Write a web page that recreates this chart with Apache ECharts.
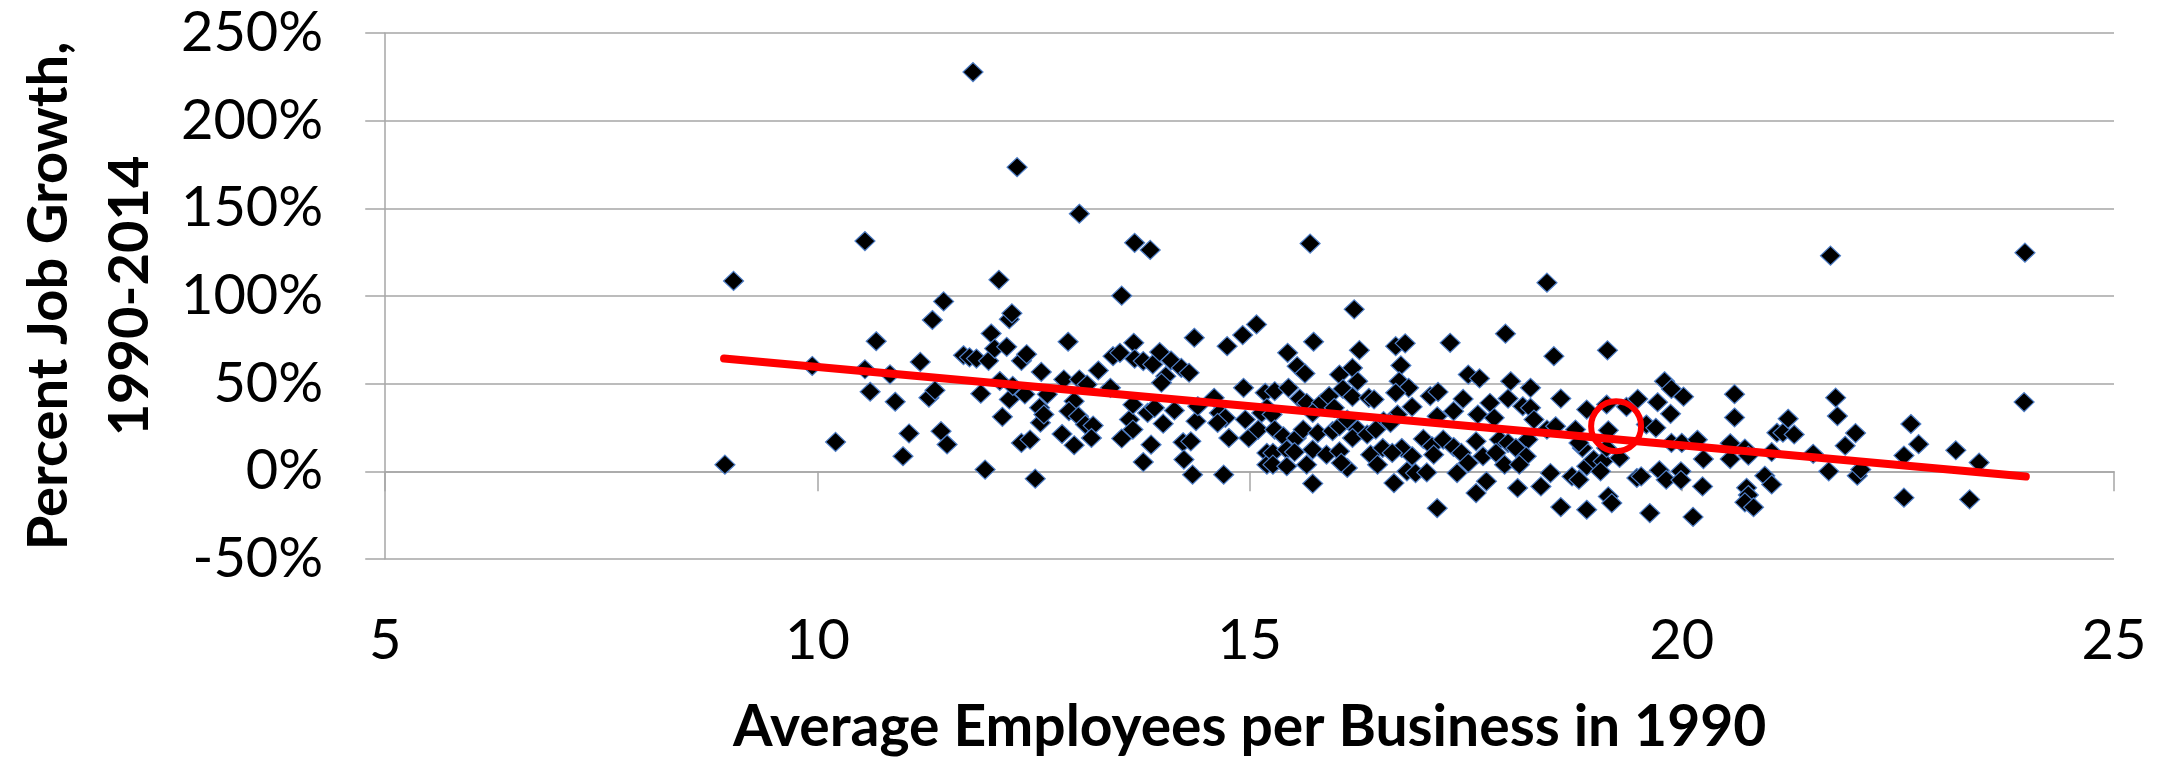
<!DOCTYPE html>
<html>
<head>
<meta charset="utf-8">
<script src="https://cdn.jsdelivr.net/npm/echarts@6/dist/echarts.min.js"></script>
<style>
html,body{margin:0;padding:0;background:#fff;}
#chart{width:2173px;height:761px;}
</style>
</head>
<body>
<div id="chart"></div>
<script>
// [average employees per business 1990, percent job growth 1990-2014]
const scatterPoints = [
[8.93,3.8],[9.03,108.6],[9.94,60.1],[10.21,16.8],[10.55,131.3],[10.55,58.2],[10.61,45.4],[10.68,74.2],[10.84,55.3],[10.9,39.7],[10.99,8.6],[11.06,21.6],[11.19,62.4],[11.29,42],[11.33,86.3],[11.36,46.2],[11.43,22.9],[11.46,96.9],[11.5,15.3],[11.69,66.2],[11.76,65],[11.8,227.7],[11.84,64.3],[11.89,44.3],[11.94,1],[11.98,63],[12.01,78.6],[12.05,70],[12.1,109.2],[12.11,51.5],[12.14,31.1],[12.19,71],[12.22,86.8],[12.22,41],[12.25,90.1],[12.26,48.7],[12.31,173.5],[12.36,63],[12.36,16.2],[12.4,43.9],[12.42,66.8],[12.46,18.1],[12.52,-4.2],[12.57,36.3],[12.58,27.7],[12.59,56.7],[12.62,32.4],[12.66,43.9],
[13.03,146.9],[13.67,130.3],[13.85,126.3],[13.52,100.2],[12.9,73.9],[14.36,76.2],[14.74,71.4],[14.92,77.7],[15.08,83.8],[13.66,73.3],[13.42,65.7],[13.5,67.6],[13.67,64.2],[13.77,62.9],[13.88,61],[13.96,68],[14.09,63.2],[14.21,59],[14.3,56.2],[14.03,54.3],[13.98,50.5],[13.25,57.5],[12.85,52.4],[13.03,52.4],[13.12,49.5],[13.39,47.6],[12.97,40],[12.91,34.3],[13.02,31.4],[13.1,26.7],[13.19,26.1],[13.17,19],[12.83,21.3],[12.97,14.9],[13.52,18.7],[13.61,29.5],[13.65,23.8],[13.65,38],[13.82,33.3],[13.9,36.2],[14.0,27.2],[14.13,34.7],[13.86,15.2],[13.77,5.3],[14.23,16.6],[14.32,17.1],[14.24,6.7],[14.34,-1.9],[14.7,-1.9],[14.38,28.6],[14.4,37.1],[14.59,41.9],[14.65,33.3],[14.72,30.5],[14.63,27.6],[14.76,19],[14.93,47.6],[14.95,29.5],[14.99,19],[15.1,23.8],[15.18,44.8],[15.2,36.2],[15.14,33.3],[15.2,10.5],[15.2,3.8],
[15.7,129.9],[16.21,92.4],[15.74,73.9],[15.44,67.6],[16.27,69.1],[16.69,71.4],[16.8,73],[17.32,73.3],[15.55,60],[15.64,55.8],[16.04,55.2],[16.19,59],[16.25,51.4],[16.75,60.4],[16.73,51.4],[16.84,47.6],[15.29,45.7],[15.45,47.6],[16.08,47],[16.19,42.5],[15.58,41.5],[15.66,39],[15.83,39],[15.92,42.9],[15.98,36.2],[16.38,41.9],[16.44,41],[16.69,44.8],[16.88,36.8],[17.09,42.9],[17.18,45.3],[15.26,32.4],[15.73,33.3],[16.55,28.6],[16.71,32.4],[17.17,31.4],[17.36,34.3],[17.47,41.3],[17.53,55.2],[17.66,53],[17.64,32.4],[15.29,23.8],[15.39,20],[15.54,19],[15.62,23.8],[15.79,21.9],[15.96,22.9],[16.04,25.7],[16.13,29.5],[16.25,23.8],[16.19,19],[16.36,21],[16.46,23.8],[16.63,27.6],[16.76,13.3],[16.88,8.6],[17.01,18.5],[17.11,14.3],[17.13,9.5],[17.24,18.1],[17.36,13.9],[17.45,10.5],[17.53,4.8],[17.62,17.1],[17.7,8.6],[15.27,10.5],[15.43,12.4],[15.52,11],[15.27,3.8],[15.43,2.9],[15.66,3.8],[15.73,12.4],[15.89,9.5],[16.04,11.4],[16.13,1.9],[16.06,4.8],[16.4,9.5],[16.48,3.8],[16.54,13.3],[16.65,10.5],[16.82,0],[16.92,-1],[17.05,-0.6],[17.4,-1],[15.73,-7],[16.67,-6.7],[17.17,-21],[17.62,-12.4],[17.74,-5.7],
[18.44,107.6],[17.96,78.5],[18.52,65.7],[19.14,69],[18.02,51.4],[18.25,47.6],[19.8,51.4],[19.88,47],[17.99,41.5],[17.78,39],[18.16,37.1],[18.25,36.2],[18.29,29.5],[18.6,41.5],[17.83,30.5],[18.9,35.2],[19.13,38.1],[19.36,36.8],[19.49,41.3],[19.72,39.4],[19.87,32.8],[19.59,26.7],[19.7,24.8],[19.15,23.4],[18.44,23.8],[18.54,25.7],[18.77,23.8],[17.89,18.1],[17.99,16.2],[18.08,13.3],[18.22,18.1],[18.2,8.6],[17.85,10.5],[17.95,3.8],[18.12,3.8],[18.1,-9.5],[18.37,-8.6],[18.48,-1],[18.73,-2.9],[18.81,-4.8],[18.9,2.9],[18.98,6.7],[18.85,13.3],[18.81,16.2],[19.09,5.7],[19.13,13.3],[19.28,7.6],[19.06,0],[19.48,-3.8],[19.53,-2.9],[19.74,0.6],[19.82,-4.8],[18.6,-20.4],[18.9,-21.9],[19.15,-14.3],[19.19,-18.1],[19.63,-23.8],[19.88,16.2],[20.0,16.2],
[21.72,123],[23.97,124.7],[23.96,39.5],[20.02,42.6],[20.61,44],[20.61,30.7],[20.18,18],[20.25,7],[20.56,16],[20.56,7],[20.73,13],[20.77,9],[19.99,0],[19.99,-5],[20.24,-8.6],[20.13,-26],[20.75,-9.4],[20.77,-13.5],[20.73,-17.7],[20.83,-20.5],[20.96,-2.5],[21.04,-7.5],[21.04,11],[21.1,22],[21.17,22],[21.23,30],[21.3,21],[21.52,10],[21.7,0],[21.78,42],[21.8,31.5],[21.89,14.6],[22.01,21.8],[22.03,-2.5],[22.07,1],[22.57,9],[22.65,27],[22.74,15.5],[22.57,-15],[23.17,12],[23.33,-16],[23.44,5]
];
const trendLine = [[8.92,64.3],[23.98,-3.0]];
const highlightPoint = [[19.24,25.7]];
const xRange = [5, 25, 5];
const yRange = [-50, 250, 50];
const xTitle = 'Average Employees per Business in 1990';
const yTitle = 'Percent Job Growth,\n1990-2014';

const FONT = 'Lato';
const GRID_GRAY = '#a6a6a6';
const chart = echarts.init(document.getElementById('chart'), null, {renderer:'canvas'});
chart.setOption({
  animation:false,
  backgroundColor:'#ffffff',
  grid:{left:368, right:59, top:33, bottom:201, containLabel:false},
  xAxis:[{
    type:'value', min:xRange[0], max:xRange[1], interval:xRange[2], position:'bottom',
    axisLine:{show:false, onZero:false}, axisTick:{show:false}, splitLine:{show:false},
    axisLabel:{margin:54, fontSize:56, fontFamily:FONT, color:'#000'},
    name:xTitle, nameLocation:'middle', nameGap:140,
    nameTextStyle:{fontSize:57, fontWeight:'bold', fontFamily:FONT, color:'#000'}
  },{
    type:'value', min:xRange[0], max:xRange[1], interval:xRange[2], position:'bottom',
    axisLine:{show:true, onZero:true, onZeroAxisIndex:0, lineStyle:{color:GRID_GRAY, width:1.5}},
    axisTick:{show:true, length:20, inside:false, lineStyle:{color:GRID_GRAY, width:1.5}},
    axisLabel:{show:false}, splitLine:{show:false}
  }],
  yAxis:{
    type:'value', min:yRange[0], max:yRange[1], interval:yRange[2],
    axisLine:{show:true, onZero:false, lineStyle:{color:GRID_GRAY, width:1.5}},
    axisTick:{show:true, length:20, lineStyle:{color:GRID_GRAY, width:1.5}},
    splitLine:{show:true, lineStyle:{color:GRID_GRAY, width:1.5}},
    axisLabel:{formatter:'{value}%', margin:62, fontSize:56, fontFamily:FONT, color:'#000'},
    name:yTitle, nameLocation:'middle', nameRotate:90, nameGap:206,
    nameTextStyle:{fontSize:56, fontWeight:'bold', fontFamily:FONT, color:'#000', lineHeight:81}
  },
  series:[{
    type:'scatter', data:scatterPoints, symbol:'diamond', symbolSize:[20,19],
    itemStyle:{color:'#000000', opacity:1, borderColor:'#4f7fc8', borderWidth:1.2}, silent:true, z:2
  },{
    type:'line', data:trendLine, showSymbol:false, symbol:'none',
    lineStyle:{color:'#ff0000', width:8, cap:'round', opacity:1}, silent:true, z:3
  },{
    type:'scatter', data:highlightPoint, symbol:'circle', symbolSize:50,
    itemStyle:{color:'rgba(0,0,0,0)', opacity:1, borderColor:'#ff0000', borderWidth:6}, silent:true, z:4
  }]
});
</script>
</body>
</html>
